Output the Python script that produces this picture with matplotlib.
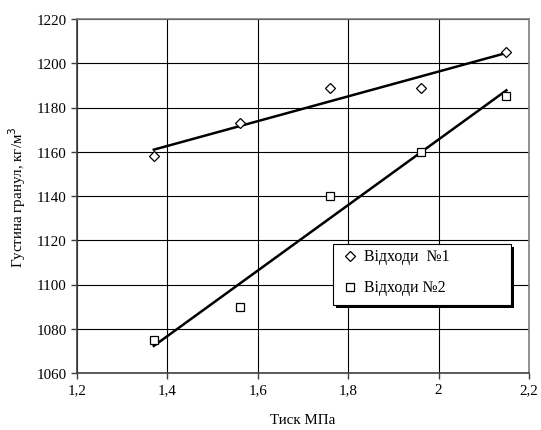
import numpy as np
import matplotlib
matplotlib.use("Agg")
import matplotlib.pyplot as plt
from matplotlib.ticker import FuncFormatter, MultipleLocator
from matplotlib.patches import Rectangle
from matplotlib.lines import Line2D

plt.rcParams['font.family'] = ['Liberation Serif', 'DejaVu Serif']

pressure = [1.37, 1.56, 1.76, 1.96, 2.15]
waste1 = [1158, 1173, 1189, 1189, 1205]
waste2 = [1075, 1090, 1140, 1160, 1185]
labels = ['Відходи  №1', 'Відходи №2']

W, H = 541, 431
fig = plt.figure(figsize=(W/100, H/100), dpi=100)
L, R, T, B = 77, 529, 20, 374
ax = fig.add_axes([L/W, 1-B/H, (R-L)/W, (B-T)/H])

fs = 10.8
x = np.array(pressure)
for ys in (waste1, waste2):
    k, b = np.polyfit(x, np.array(ys), 1)
    xx = np.array([x.min(), x.max()])
    ax.plot(xx, k*xx + b, color='black', lw=1.8, zorder=3)

ax.plot(pressure, waste1, linestyle='none', marker='D', markersize=5.6,
        mfc='white', mec='black', mew=0.9, zorder=4)
ax.plot(pressure, waste2, linestyle='none', marker='s', markersize=6.0,
        mfc='white', mec='black', mew=0.9, zorder=4)

ax.set_xlim(1.2, 2.2)
ax.set_ylim(1060, 1220)
ax.xaxis.set_major_locator(MultipleLocator(0.2))
ax.yaxis.set_major_locator(MultipleLocator(20))
ax.xaxis.set_major_formatter(FuncFormatter(lambda v, p: ('%g' % round(v, 1)).replace('.', ',')))
ax.grid(True, color='black', lw=0.8)
ax.set_axisbelow(True)
for s in ax.spines.values():
    s.set_color('#7f7f7f')
    s.set_linewidth(1.2)
ax.spines['left'].set_color('#404040')
ax.spines['bottom'].set_color('#404040')
ax.tick_params(direction='out', length=4, width=1, colors='#404040', labelcolor='black', labelsize=fs)

ax.set_xlabel('Тиск МПа', fontsize=fs, labelpad=12)
ax.set_ylabel('Густина гранул, кг/м$^3$', fontsize=fs, labelpad=6)

# legend box drawn manually (wide frame with shadow)
bx0, by0, bx1, by1 = 333, 245, 511, 306
sh = 2.5
fig.add_artist(Rectangle(((bx0+sh)/W, 1-(by1+sh)/H), (bx1-bx0)/W, (by1-by0)/H,
                         transform=fig.transFigure, facecolor='black', edgecolor='black', lw=0, zorder=5))
fig.add_artist(Rectangle((bx0/W, 1-by1/H), (bx1-bx0)/W, (by1-by0)/H,
                         transform=fig.transFigure, facecolor='white', edgecolor='black', lw=0.8, zorder=6))
rows = [257, 288]
mk = [('D', 4.6), ('s', 5.4)]
for (m, ms), yy, lab in zip(mk, rows, labels):
    fig.add_artist(Line2D([350/W], [1-yy/H], marker=m, markersize=ms, mfc='white', mec='black',
                          mew=0.9, linestyle='none', transform=fig.transFigure, zorder=7))
    fig.text(364/W, 1-yy/H, lab, fontsize=11.4, va='center', ha='left', zorder=7)

fig.savefig('out.png', dpi=100)
